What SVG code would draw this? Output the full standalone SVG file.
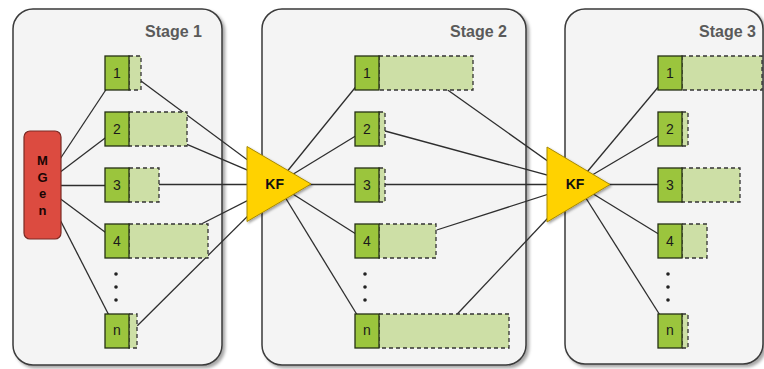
<svg xmlns="http://www.w3.org/2000/svg" width="764" height="369" viewBox="0 0 764 369">
<defs>
<filter id="sh" x="-10%" y="-10%" width="130%" height="130%">
<feDropShadow dx="2.5" dy="2.5" stdDeviation="1.8" flood-color="#000" flood-opacity="0.35"/>
</filter>
<filter id="sh2" x="-20%" y="-20%" width="150%" height="150%">
<feDropShadow dx="1.5" dy="1.5" stdDeviation="1.2" flood-color="#000" flood-opacity="0.35"/>
</filter>
</defs>
<style>
.panel{fill:#f4f4f4;stroke:#3a3a3a;stroke-width:1.5}
.stage{font-family:"Liberation Sans",Arial,sans-serif;font-weight:bold;font-size:16px;fill:#5a5a5a;text-anchor:end}
.box{fill:#9bc53d;stroke:#263014;stroke-width:1.3}
.ext{fill:#cddfa6;stroke:#333;stroke-width:1.3;stroke-dasharray:4 3}
.num{font-family:"Liberation Sans",Arial,sans-serif;font-size:14px;fill:#1a1a1a;text-anchor:middle}
.mg{font-family:"Liberation Sans",Arial,sans-serif;font-weight:bold;font-size:13px;fill:#1a0504;text-anchor:middle}
.kf{fill:#ffd200;stroke:#a88a00;stroke-width:1}
.kft{font-family:"Liberation Sans",Arial,sans-serif;font-weight:bold;font-size:14px;fill:#111;text-anchor:middle}
.c line{stroke:#2e2e2e;stroke-width:1.3}
.dot{fill:#222}
</style>
<rect width="764" height="369" fill="#fff"/>
<g id="stage1"><rect class="panel" x="13" y="9" width="209" height="356" rx="20" filter="url(#sh)"/><text class="stage" x="202" y="37">Stage 1</text></g>
<g id="stage2"><rect class="panel" x="262" y="9" width="264" height="356" rx="20" filter="url(#sh)"/><text class="stage" x="507" y="37">Stage 2</text></g>
<g id="stage3"><rect class="panel" x="565" y="9" width="198" height="355" rx="20" filter="url(#sh)"/><text class="stage" x="756" y="37">Stage 3</text></g>
<g id="connectors" class="c">
<line x1="42.5" y1="185.5" x2="117" y2="73"/>
<line x1="42.5" y1="185.5" x2="117" y2="129"/>
<line x1="42.5" y1="185.5" x2="117" y2="185.5"/>
<line x1="42.5" y1="185.5" x2="117" y2="241"/>
<line x1="42.5" y1="185.5" x2="117" y2="331"/>
<line x1="141" y1="81" x2="280" y2="184"/>
<line x1="187" y1="144.3" x2="280" y2="184"/>
<line x1="159" y1="184.5" x2="280" y2="184.5"/>
<line x1="202.3" y1="223.5" x2="280" y2="184"/>
<line x1="137.3" y1="325.7" x2="280" y2="184"/>
<line x1="277" y1="184" x2="367" y2="73"/>
<line x1="277" y1="184" x2="367" y2="129"/>
<line x1="277" y1="184.5" x2="367" y2="184.5"/>
<line x1="277" y1="184" x2="367" y2="241"/>
<line x1="277" y1="184" x2="367" y2="331"/>
<line x1="447.7" y1="90" x2="580" y2="184"/>
<line x1="385" y1="131" x2="580" y2="184"/>
<line x1="385" y1="184.5" x2="580" y2="184.5"/>
<line x1="436.7" y1="230" x2="580" y2="184"/>
<line x1="457.3" y1="314" x2="580" y2="184"/>
<line x1="577" y1="184" x2="670" y2="73"/>
<line x1="577" y1="184" x2="670" y2="129"/>
<line x1="577" y1="184.5" x2="670" y2="184.5"/>
<line x1="577" y1="184" x2="670" y2="241"/>
<line x1="577" y1="184" x2="670" y2="331"/>
</g>
<g id="mgen"><rect x="24" y="131" width="37" height="108" rx="6" fill="#dc4b40" stroke="#7a2a24" stroke-width="1.2"/>
<text class="mg" x="42.5" y="165">M</text><text class="mg" x="42.5" y="181.5">G</text><text class="mg" x="42.5" y="198">e</text><text class="mg" x="42.5" y="214.5">n</text></g>
<g id="s1n1"><rect class="ext" x="129" y="56" width="12" height="34"/><rect class="box" x="105" y="56" width="24" height="34"/><text class="num" x="117" y="78">1</text></g>
<g id="s1n2"><rect class="ext" x="129" y="112" width="58" height="34"/><rect class="box" x="105" y="112" width="24" height="34"/><text class="num" x="117" y="134">2</text></g>
<g id="s1n3"><rect class="ext" x="129" y="168" width="30" height="34"/><rect class="box" x="105" y="168" width="24" height="34"/><text class="num" x="117" y="190">3</text></g>
<g id="s1n4"><rect class="ext" x="129" y="224" width="79" height="34"/><rect class="box" x="105" y="224" width="24" height="34"/><text class="num" x="117" y="246">4</text></g>
<g id="s1dots"><circle class="dot" cx="116" cy="274" r="1.8"/><circle class="dot" cx="116" cy="287" r="1.8"/><circle class="dot" cx="116" cy="300" r="1.8"/></g>
<g id="s1nn"><rect class="ext" x="129" y="314" width="8" height="34"/><rect class="box" x="105" y="314" width="24" height="34"/><text class="num" x="117" y="335">n</text></g>
<g id="s2n1"><rect class="ext" x="379" y="56" width="94" height="34"/><rect class="box" x="355" y="56" width="24" height="34"/><text class="num" x="367" y="78">1</text></g>
<g id="s2n2"><rect class="ext" x="379" y="112" width="6" height="34"/><rect class="box" x="355" y="112" width="24" height="34"/><text class="num" x="367" y="134">2</text></g>
<g id="s2n3"><rect class="ext" x="379" y="168" width="6" height="34"/><rect class="box" x="355" y="168" width="24" height="34"/><text class="num" x="367" y="190">3</text></g>
<g id="s2n4"><rect class="ext" x="379" y="224" width="57" height="34"/><rect class="box" x="355" y="224" width="24" height="34"/><text class="num" x="367" y="246">4</text></g>
<g id="s2dots"><circle class="dot" cx="365" cy="274" r="1.8"/><circle class="dot" cx="365" cy="287" r="1.8"/><circle class="dot" cx="365" cy="300" r="1.8"/></g>
<g id="s2nn"><rect class="ext" x="379" y="314" width="130" height="34"/><rect class="box" x="355" y="314" width="24" height="34"/><text class="num" x="367" y="335">n</text></g>
<g id="s3n1"><rect class="ext" x="682" y="56" width="80" height="34"/><rect class="box" x="658" y="56" width="24" height="34"/><text class="num" x="670" y="78">1</text></g>
<g id="s3n2"><rect class="ext" x="682" y="112" width="6" height="34"/><rect class="box" x="658" y="112" width="24" height="34"/><text class="num" x="670" y="134">2</text></g>
<g id="s3n3"><rect class="ext" x="682" y="168" width="58" height="34"/><rect class="box" x="658" y="168" width="24" height="34"/><text class="num" x="670" y="190">3</text></g>
<g id="s3n4"><rect class="ext" x="682" y="224" width="25" height="34"/><rect class="box" x="658" y="224" width="24" height="34"/><text class="num" x="670" y="246">4</text></g>
<g id="s3dots"><circle class="dot" cx="668" cy="274" r="1.8"/><circle class="dot" cx="668" cy="287" r="1.8"/><circle class="dot" cx="668" cy="300" r="1.8"/></g>
<g id="s3nn"><rect class="ext" x="682" y="314" width="6" height="34"/><rect class="box" x="658" y="314" width="24" height="34"/><text class="num" x="670" y="335">n</text></g>
<g id="kf1"><polygon class="kf" points="247,146.5 247,221.5 311,184" filter="url(#sh2)"/><text class="kft" x="274.7" y="188.5">KF</text></g>
<g id="kf2"><polygon class="kf" points="547,147 547,222 610,184.5" filter="url(#sh2)"/><text class="kft" x="575" y="189">KF</text></g>
</svg>
